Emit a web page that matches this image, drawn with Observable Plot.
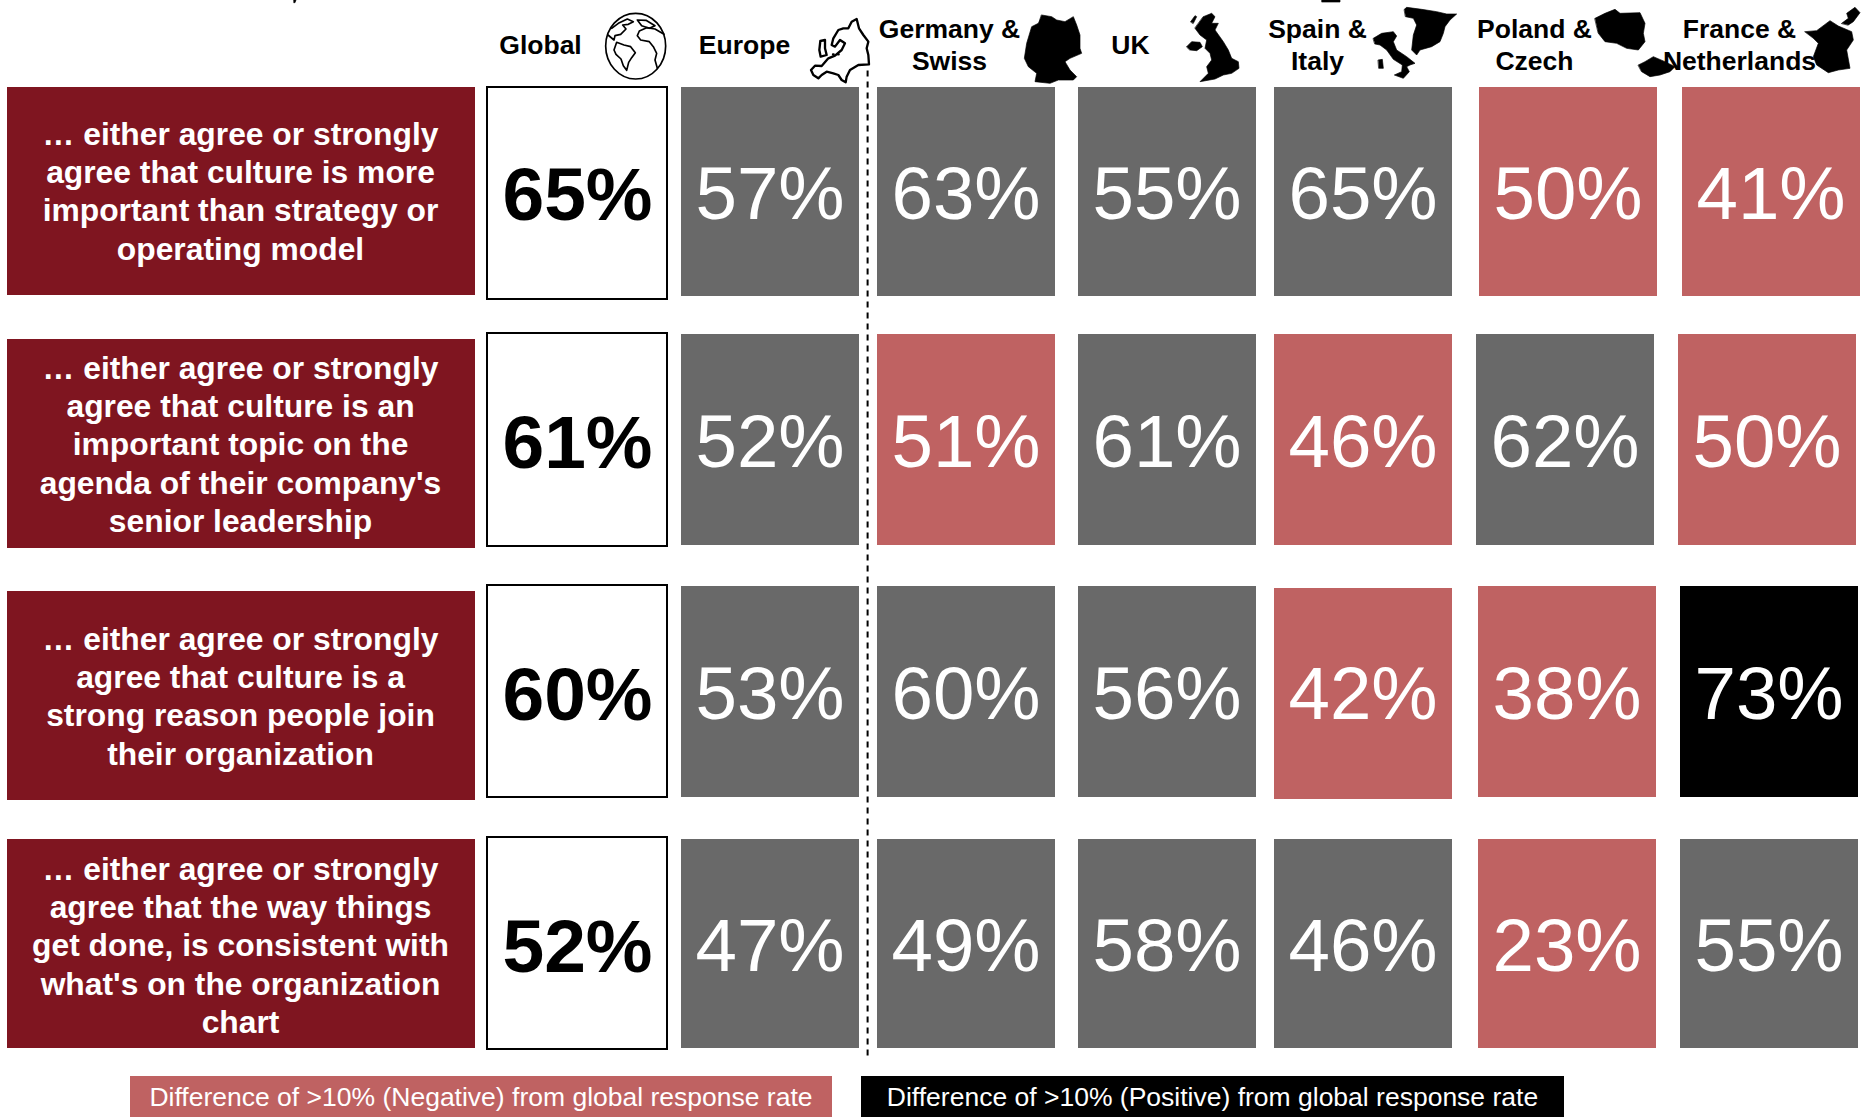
<!DOCTYPE html>
<html>
<head>
<meta charset="utf-8">
<script src="https://cdn.jsdelivr.net/npm/d3@7"></script>
<script src="https://cdn.jsdelivr.net/npm/@observablehq/plot@0.6"></script>
<style>
  html, body { margin: 0; padding: 0; background: #fff; overflow: hidden; }
  body { width: 1865px; height: 1117px; font-family: "Liberation Sans", Arial, sans-serif; }
  #chart svg { display: block; }
  #legend { position: relative; height: 49px; }
  #legend div {
    position: absolute; top: 8px; height: 41px; line-height: 43px;
    text-align: center; color: #fff; font-size: 26.5px; white-space: nowrap;
  }
</style>
</head>
<body>
<div id="chart"></div>
<div id="legend"></div>
<script>
// Survey statements, one per row
const statements = [
  "… either agree or strongly\nagree that culture is more\nimportant than strategy or\noperating model",
  "… either agree or strongly\nagree that culture is an\nimportant topic on the\nagenda of their company's\nsenior leadership",
  "… either agree or strongly\nagree that culture is a\nstrong reason people join\ntheir organization",
  "… either agree or strongly\nagree that the way things\nget done, is consistent with\nwhat's on the organization\nchart"
];

// Regions, one per column
const regions = ["Global", "Europe", "Germany &\nSwiss", "UK", "Spain &\nItaly", "Poland &\nCzech", "France &\nNetherlands"];

// Share of respondents (%), rows by region
const globalValues = [65, 61, 60, 52];
const regionValues = [
  [57, 63, 55, 65, 50, 41],
  [52, 51, 61, 46, 62, 50],
  [53, 60, 56, 42, 38, 73],
  [47, 49, 58, 46, 23, 55]
];

// Flag for each regional figure against the global response rate
const n = "neutral", neg = "negative", pos = "positive";
const regionFlags = [
  [n, n, n, n, neg, neg],
  [n, neg, n, neg, n, neg],
  [n, n, n, neg, neg, pos],
  [n, n, n, n, neg, n]
];

const legendItems = [
  {text: "Difference of >10% (Negative) from global response rate", flag: neg, left: 130, width: 702},
  {text: "Difference of >10% (Positive) from global response rate", flag: pos, left: 861, width: 703}
];

// Scale layout: a column or row spans [i, i + 0.8], the remainder is the gutter
const span = 0.8;
const columnStops = [-1, -0.2, 0, 0.8, 1, 1.8, 2, 2.8, 3, 3.8, 4, 4.8, 5, 5.8, 6, 6.8];
const columnPixels = [7, 475, 487, 667, 681, 859, 877, 1055, 1078, 1256, 1274, 1452, 1479, 1657, 1682, 1860];
const rowStops = [-1, 0, 0.8, 1, 1.8, 2, 2.8, 3, 3.8, 4];
const rowPixels = [0, 87, 296, 334, 545, 586, 797, 839, 1048, 1068];

// Small per-cell departures from the grid, in pixels
const columnNudge = {5: [0, -3, -1, -1], 6: [0, -4, -2, -2]};
const globalInsets = [[0, -3], [-1, -1], [-1, 0], [-2, -1]];
const statementInsets = [[0, 1], [5, -3], [5, -3], [0, 0]];
const statementShift = [-2, 3, 3, 0];
const headerShift = [-37, -26, -17, -37, -46, -34, -32];
const headerRow = -0.5;
const lowerCell = {row: 2, col: 4, dy: 2};

const flagColors = {neutral: "#696969", negative: "#BF6262", positive: "#000000"};
const maroon = "#7F1520";
const sansSerif = "Liberation Sans";

// Pictograms beside the region names; each group is drawn at 3x about its origin
const pictograms = [
  {origin: [600, 5], strokeWidth: 5, shapes: [
    "M107 25C157 25 197 69 197 123C197 177 157 222 107 222C57 222 17 177 17 123C17 69 57 25 107 25Z",
    "M35 70L55 55L82 42L100 50L85 58L68 60L78 72L62 88L45 92L42 105L24 90",
    "M42 135L50 112L72 120L92 125L106 143L95 158L86 172L80 196L70 182L63 162L48 148Z",
    "M112 45L138 46L165 62L148 70L125 62Z",
    "M192 88L165 72L140 68L118 78L112 92L122 105L148 110L160 125L170 145L165 165L172 190"
  ]},
  {origin: [805, 5], strokeWidth: 7, shapes: [
    "M25 210L18 195L30 182L50 183L70 160L90 152L110 135L120 115L105 105L90 125L80 120L85 100L100 75L115 70L130 70L140 50L155 42L162 70L175 90L190 110L185 130L190 150L192 178L160 180L135 195L125 215L122 232L110 225L100 210L85 205L65 200L50 210L40 220Z",
    "M46 108L60 105L60 130L65 150L47 155L43 135Z",
    "M84 148L86 148M99 148L101 148"
  ]},
  {origin: [1015, 5], fill: true, shapes: [
    "M80 30L110 35L125 45L150 50L175 35L185 60L195 90L195 130L200 145L165 160L150 170L165 195L185 215L175 225L130 225L105 235L60 230L65 205L40 185L28 160L35 115L50 65L70 55Z",
    "M565 35L590 25L600 35L590 55L610 55L600 75L625 110L640 135L650 160L670 170L672 190L650 205L625 210L600 222L555 230L580 205L575 185L590 165L585 145L570 130L575 105L555 90L540 70Z",
    "M515 125L530 110L555 112L562 125L545 137L525 135Z",
    "M527 50L540 32L545 35L535 55Z"
  ]},
  {origin: [1365, 0], fill: true, shapes: [
    "M118 28L125 22L170 28L215 35L245 42L275 42L255 60L240 80L235 100L225 125L200 140L165 150L155 165L140 150L145 105L155 75L145 55L122 50Z",
    "M25 115L50 100L85 95L95 108L85 125L95 150L125 170L150 190L135 195L125 200L133 215L115 235L88 225L110 215L112 195L85 178L65 150L45 135L30 132Z",
    "M40 180L52 178L55 205L42 205Z"
  ]},
  {origin: [1590, 0], fill: true, shapes: [
    "M15 55L45 40L75 28L90 40L150 38L165 70L160 100L165 125L145 150L110 145L80 130L45 125L25 100Z",
    "M145 195L165 185L190 170L225 185L255 200L240 215L210 225L180 230L155 215Z",
    "M645 95L680 92L720 62L745 78L785 95L790 120L770 150L780 205L745 210L715 218L680 195L670 170L685 130L670 115Z",
    "M755 70L775 55L770 40L795 22L810 38L790 65L775 75Z"
  ]},
  {origin: [0, 0], fill: true, shapes: [
    "M882 0H888L885 8H882Z",
    "M3966 0H4020V6H3966Z"
  ]}
];

// Long-format tables for the marks
const regionCells = regionValues.flatMap((row, r) => row.map((value, i) => ({
  row: r,
  col: i + 1,
  value,
  flag: regionFlags[r][i],
  dx: (columnNudge[i + 1] || [])[r] || 0,
  dy: r === lowerCell.row && i + 1 === lowerCell.col ? lowerCell.dy : 0
})));
const globalCells = globalValues.map((value, r) => ({row: r, col: 0, value}));
const statementRows = statements.map((text, r) => ({row: r, text}));
const headers = regions.map((text, col) => ({col, text}));

const pct = (d) => `${d.value}%`;
const columnMiddle = (d) => d.col + span / 2;
const rowMiddle = (d) => d.row + span / 2;

function drawPictograms() {
  const g = d3.create("svg:g");
  for (const {origin, strokeWidth, fill, shapes} of pictograms) {
    const group = g.append("g").attr("transform", `translate(${origin[0]},${origin[1]}) scale(${1 / 3})`);
    for (const d of shapes) {
      group.append("path").attr("d", d)
        .attr("fill", fill ? "#000" : "none")
        .attr("stroke", "#000")
        .attr("stroke-width", fill ? 2 : strokeWidth)
        .attr("stroke-linejoin", "round")
        .attr("stroke-linecap", "round");
    }
  }
  return g.node();
}

const marks = [];

// Statement column
statementRows.forEach((d) => {
  const [insetTop, insetBottom] = statementInsets[d.row];
  marks.push(Plot.rect([d], {
    x1: -1, x2: -0.2,
    y1: "row", y2: (v) => v.row + span,
    fill: maroon, insetTop, insetBottom
  }));
  marks.push(Plot.text([d], {
    x: -0.6, y: rowMiddle, text: "text",
    fill: "#fff", fontWeight: 700, fontSize: 31.8, lineHeight: 1.207,
    fontFamily: sansSerif, lineAnchor: "middle", dx: -1, dy: statementShift[d.row]
  }));
});

// Global column
globalCells.forEach((d) => {
  const [insetTop, insetBottom] = globalInsets[d.row];
  marks.push(Plot.rect([d], {
    x1: "col", x2: (v) => v.col + span,
    y1: "row", y2: (v) => v.row + span,
    fill: "#fff", stroke: "#000", strokeWidth: 2, insetTop, insetBottom
  }));
});
marks.push(Plot.text(globalCells, {
  x: columnMiddle, y: rowMiddle, text: pct,
  fill: "#000", fontWeight: 700, fontSize: 75,
  fontFamily: sansSerif, lineAnchor: "middle", dy: 4
}));

// Regional cells, grouped by their small offsets
for (const cells of d3.group(regionCells, (d) => `${d.dx}/${d.dy}`).values()) {
  const {dx, dy} = cells[0];
  marks.push(Plot.rect(cells, {
    x1: "col", x2: (v) => v.col + span,
    y1: "row", y2: (v) => v.row + span,
    fill: (v) => v.flag, dx, dy
  }));
  marks.push(Plot.text(cells, {
    x: columnMiddle, y: rowMiddle, text: pct,
    fill: "#fff", fontSize: 74.5,
    fontFamily: sansSerif, lineAnchor: "middle", dx: dx - 0.5, dy: 3
  }));
}

// Separator between Europe overall and its sub-regions
marks.push(Plot.ruleX([1.89], {
  y1: -0.19, y2: 3.91,
  stroke: "#000", strokeWidth: 2, strokeDasharray: "6,5"
}));

// Region headings
headers.forEach((d) => {
  marks.push(Plot.text([d], {
    x: columnMiddle, y: headerRow, text: "text",
    fill: "#000", fontWeight: 700, fontSize: 26.5, lineHeight: 1.21,
    fontFamily: sansSerif, lineAnchor: "middle", dx: headerShift[d.col]
  }));
});

marks.push(drawPictograms);

const chart = Plot.plot({
  width: 1865,
  height: 1068,
  margin: 0,
  style: {background: "#fff"},
  x: {type: "linear", domain: columnStops, range: columnPixels, axis: null},
  y: {type: "linear", domain: rowStops, range: rowPixels, axis: null},
  color: {domain: Object.keys(flagColors), range: Object.values(flagColors)},
  marks
});
document.getElementById("chart").append(chart);

// Key below the chart
const legend = d3.select("#legend");
for (const item of legendItems) {
  legend.append("div")
    .style("left", `${item.left}px`)
    .style("width", `${item.width}px`)
    .style("background", flagColors[item.flag])
    .text(item.text);
}
</script>
</body>
</html>
